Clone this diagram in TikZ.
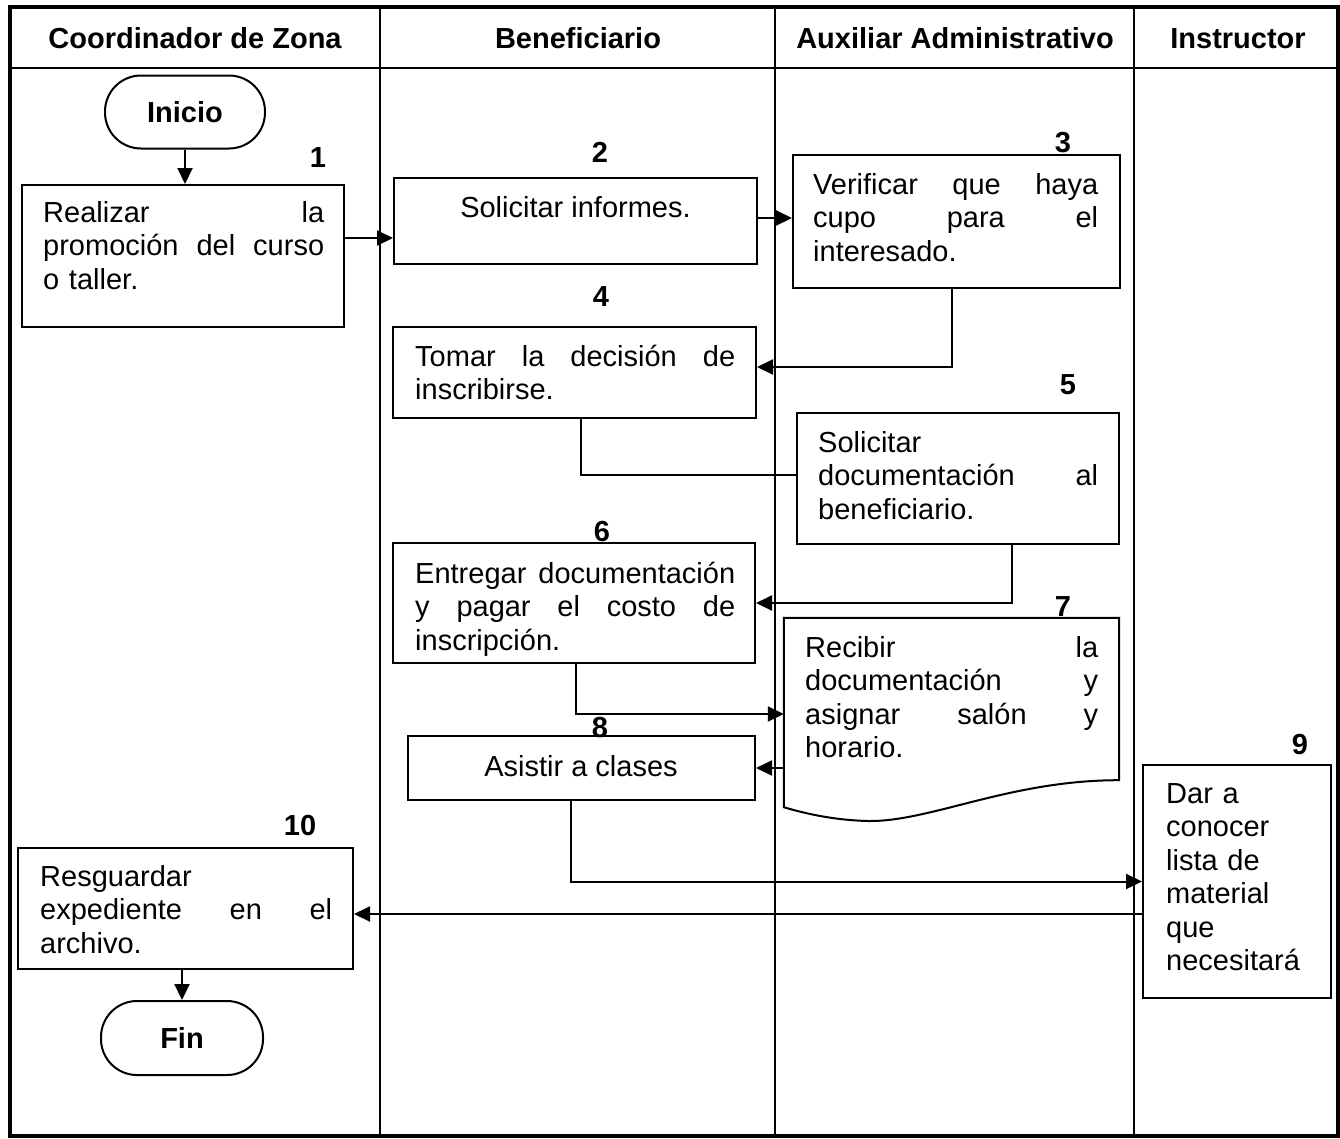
\documentclass[tikz,border=0pt]{standalone}
\usepackage{fontspec}
\setmainfont{Liberation Sans}
\usetikzlibrary{arrows.meta}
% stretch between words of a justified line
\newcommand\jf{\hskip 0pt plus 1filll\relax}
\begin{document}
\begin{tikzpicture}[x=1pt,y=-1pt,
  box/.style={draw, line width=2pt, inner sep=0pt},
  txt/.style={inner sep=0pt, align=left, anchor=north west,
    font=\fontsize{29}{33.5}\selectfont, execute at begin node=\strut},
  one/.style={inner sep=0pt, anchor=base, font=\fontsize{29}{33.5}\selectfont},
  head/.style={inner sep=0pt, anchor=base, font=\fontsize{29}{33.5}\selectfont\bfseries},
  num/.style={inner sep=0pt, font=\fontsize{29}{33.5}\selectfont\bfseries},
  term/.style={box, rounded corners=36pt, font=\fontsize{29}{33.5}\selectfont\bfseries},
  arr/.style={line width=2pt, -{Triangle[length=16pt,width=15pt]}},
  link/.style={line width=2pt}]
\useasboundingbox (0,0) rectangle (1340,1138);

% lanes
\draw[line width=3.5pt] (10,7) rectangle (1338,1136);
\draw[line width=2.5pt] (10,68) -- (1338,68);
\foreach \xx in {380,775,1134} \draw[line width=2.5pt] (\xx,7) -- (\xx,1136);
\node[head] (h1) at (195,48) {Coordinador de Zona};
\node[head] (h2) at (578,48) {Beneficiario};
\node[head] (h3) at (955,48) {Auxiliar Administrativo};
\node[head] (h4) at (1238,48) {Instructor};

% shapes
\node[term, minimum width=160, minimum height=73] (ini) at (185,112) {Inicio};
\node[box, minimum width=322, minimum height=142] (b1) at (183,256) {};
\node[box, minimum width=363, minimum height=86] (b2) at (575.5,221) {};
\node[box, minimum width=327, minimum height=133] (b3) at (956.5,221.5) {};
\node[box, minimum width=363, minimum height=91] (b4) at (574.5,372.5) {};
\node[box, minimum width=322, minimum height=131] (b5) at (958,478.5) {};
\node[box, minimum width=362, minimum height=120] (b6) at (574,603) {};
\node[inner sep=0pt, minimum width=335, minimum height=189] (b7) at (951.5,712.5) {};
\draw[line width=2pt] (b7.north west) -- (b7.north east) -- ([yshift=27pt]b7.south east)
  .. controls (1010,780) and (930,822) .. (868,821)
  .. controls (830,820) and (800,812) .. (b7.south west) -- cycle;
\node[box, minimum width=347, minimum height=64] (b8) at (581.5,768) {};
\node[box, minimum width=188, minimum height=233] (b9) at (1237,881.5) {};
\node[box, minimum width=335, minimum height=121] (b10) at (185.5,908.5) {};
\node[term, minimum width=162, minimum height=74] (fin) at (182,1038) {Fin};

% step numbers
\node[num] (n1) at (318,158) {1};
\node[num] (n2) at (600,152) {2};
\node[num] (n3) at (1063,143) {3};
\node[num] (n4) at (601,297) {4};
\node[num] (n5) at (1068,385) {5};
\node[num] (n6) at (602,532) {6};
\node[num] (n7) at (1063,607) {7};
\node[num] (n8) at (600,728) {8};
\node[num] (n9) at (1300,745) {9};
\node[num] (n10) at (300,826) {10};

% texts
\node[txt, text width=281] (t1) at (43,198.5)
  {Realizar\jf la\\promoción\jf del\jf curso\\o taller.};
\node[one] (t2) at (575.5,217) {Solicitar informes.};
\node[txt, text width=285] (t3) at (813,170.5)
  {Verificar\jf que\jf haya\\cupo\jf para\jf el\\interesado.};
\node[txt, text width=320] (t4) at (415,342.5)
  {Tomar\jf la\jf decisión\jf de\\inscribirse.};
\node[txt, text width=280] (t5) at (818,428.5)
  {Solicitar\\documentación\jf al\\beneficiario.};
\node[txt, text width=320] (t6) at (415,559.5)
  {Entregar\jf documentación\\y\jf pagar\jf el\jf costo\jf de\\inscripción.};
\node[txt, text width=293] (t7) at (805,633.5)
  {Recibir\jf la\\documentación\jf y\\asignar\jf salón\jf y\\horario.};
\node[one] (t8) at (581,776) {Asistir a clases};
\node[txt, text width=160] (t9) at (1166,779.5)
  {Dar a\\conocer\\lista de\\material\\que\\necesitará};
\node[txt, text width=292] (t10) at (40,862.5)
  {Resguardar\\expediente\jf en\jf el\\archivo.};

% connectors
\draw[arr] (ini.south) -- (ini.south |- b1.north);
\draw[arr] ([yshift=18pt]b1.east) -- ([yshift=18pt]b1.east -| b2.west);
\draw[arr] ([yshift=3pt]b2.east) -- ([yshift=3pt]b2.east -| b3.west);
\draw[arr] ([xshift=-4.5pt]b3.south) |- ([yshift=5.5pt]b4.east);
\draw[link] ([xshift=6.5pt]b4.south) |- ([yshift=3.5pt]b5.west);
\draw[arr] ([xshift=54pt]b5.south) |- (b6.east);
\draw[arr] ([xshift=2pt]b6.south) |- ([yshift=-1.5pt]b7.west);
\draw[arr] (b8.east -| b7.west) -- (b8.east);
\draw[arr] ([xshift=-10.5pt]b8.south) |- (b9.west);
\draw[arr] ([yshift=-5.5pt]b10.east -| b9.west) -- ([yshift=-5.5pt]b10.east);
\draw[arr] (b10.south -| fin.north) -- (fin.north);
\end{tikzpicture}
\end{document}
